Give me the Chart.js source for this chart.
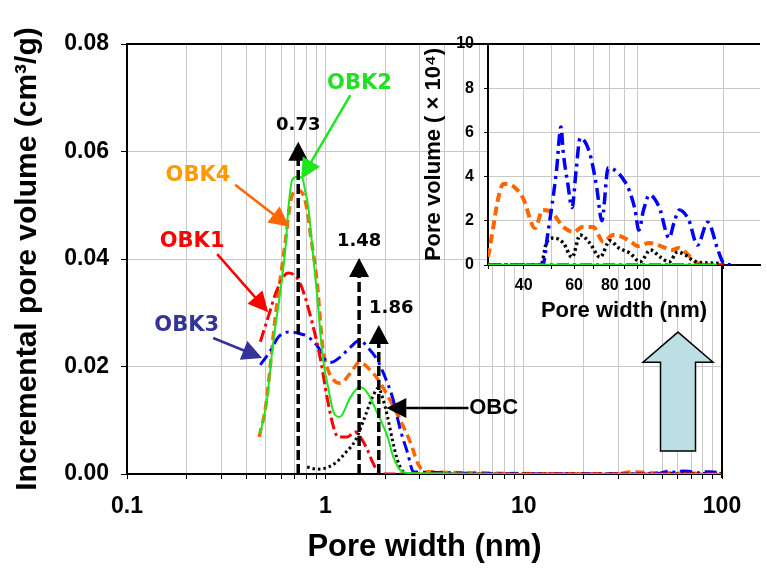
<!DOCTYPE html>
<html>
<head>
<meta charset="utf-8">
<script src="https://cdn.jsdelivr.net/npm/chart.js@4.4.0/dist/chart.umd.min.js"></script>
<style>
  html, body { margin: 0; padding: 0; background: #fff; }
  #wrap { position: relative; width: 767px; height: 568px; }
  #main { position: absolute; left: 0; top: 0; }
  #inset { position: absolute; left: 420px; top: 20px; }
</style>
</head>
<body>
<div id="wrap">
  <canvas id="main" width="767" height="568"></canvas>
  <canvas id="inset" width="347" height="320"></canvas>
</div>
<script>
// ---- tick labels ----
const xTickLabels = [0.1, 1, 10, 100];
const yTicks = [0, 0.02, 0.04, 0.06, 0.08];
const insetXTickLabels = [40, 60, 80, 100];
const insetYTicks = [0, 2, 4, 6, 8, 10];

// ---- micropore part (nm, cm3/g) ----
const obk1X = [0.47, 0.515, 0.57, 0.65, 0.72, 0.77, 0.86, 0.94, 1.02, 1.1, 1.16, 1.29, 1.42, 1.5, 1.63, 1.73, 1.85, 1.96];
const obk1Y = [0.0246, 0.0292, 0.0342, 0.0374, 0.0365, 0.0342, 0.028, 0.0218, 0.0143, 0.0087, 0.0069, 0.0069, 0.0078, 0.0069, 0.0045, 0.0022, 0.0004, 0];

const obk2X = [0.47, 0.51, 0.54, 0.63, 0.65, 0.68, 0.72, 0.765, 0.79, 0.82, 0.86, 0.91, 0.97, 1.04, 1.1, 1.18, 1.34, 1.49, 1.63, 1.83, 2.06, 2.2, 2.39, 2.6];
const obk2Y = [0.0075, 0.0143, 0.023, 0.0422, 0.0491, 0.0547, 0.0553, 0.0551, 0.0528, 0.0497, 0.0422, 0.033, 0.0218, 0.0156, 0.0115, 0.0106, 0.0143, 0.0162, 0.0151, 0.0113, 0.0069, 0.0032, 0.0007, 0.0002];

const obk3X = [0.47, 0.53, 0.58, 0.65, 0.73, 0.82, 0.92, 1.0, 1.08, 1.19, 1.34, 1.49, 1.65, 1.83, 1.96, 2.18, 2.39, 2.6, 2.78];
const obk3Y = [0.0203, 0.023, 0.0255, 0.0264, 0.0262, 0.0255, 0.0236, 0.0212, 0.0208, 0.0218, 0.0236, 0.0249, 0.0234, 0.0212, 0.0188, 0.0143, 0.0082, 0.0039, 0.0004];

const obk4X = [0.464, 0.5, 0.53, 0.55, 0.63, 0.67, 0.72, 0.765, 0.81, 0.84, 0.91, 0.97, 1.02, 1.1, 1.19, 1.34, 1.49, 1.69, 1.85, 2.08, 2.39, 2.69, 2.95, 3.27];
const obk4Y = [0.0069, 0.0125, 0.0207, 0.0268, 0.0435, 0.051, 0.0528, 0.0523, 0.0491, 0.0448, 0.0355, 0.0236, 0.0199, 0.0175, 0.0169, 0.0188, 0.0208, 0.0193, 0.0175, 0.0143, 0.01, 0.0058, 0.0017, 0.0004];

const obcX = [0.81, 0.91, 1.0, 1.12, 1.26, 1.42, 1.56, 1.73, 1.85, 1.94, 2.06, 2.18, 2.31, 2.48, 2.7];
const obcY = [0.0013, 0.0009, 0.0011, 0.002, 0.0039, 0.0063, 0.01, 0.0143, 0.016, 0.0143, 0.0106, 0.0063, 0.0026, 0.0004, 0];

// ---- mesopore part, inset (nm, x10^-4 cm3/g) ----
const mesoObk1X = [30, 200];
const mesoObk1Y = [0, 0];
const mesoObk2X = [30, 190];
const mesoObk2Y = [0, 0];
const mesoObk3X = [30, 46.6, 48.6, 52, 54, 55, 57, 59, 61, 63, 68, 72, 75, 79, 85, 91, 94, 98, 101, 105, 110, 119, 129, 134, 140, 151, 162, 176, 191, 200, 215];
const mesoObk3Y = [0, 0, 1.45, 4.2, 6.24, 5.07, 3.7, 2.6, 4.3, 5.75, 5.07, 3.5, 2.0, 4.4, 4.2, 3.7, 3.3, 2.5, 1.58, 2.5, 3.17, 2.62, 1.22, 1.9, 2.49, 2.04, 0.9, 1.94, 0.68, 0.09, 0];
const mesoObk4X = [30, 34, 35, 39.6, 43.8, 46.6, 50, 55, 60, 64, 70, 76, 82, 87, 96, 100, 110, 123, 132, 139, 153, 162, 180];
const mesoObk4Y = [0.36, 3.66, 3.66, 3.08, 1.67, 2.49, 2.4, 1.72, 1.49, 1.72, 1.72, 1.04, 1.36, 1.31, 1.0, 0.86, 1.0, 0.81, 0.68, 0.77, 0.36, 0.09, 0];
const mesoObcX = [30, 46, 48, 51, 55, 59, 63, 68, 74, 80, 86, 89, 94, 102, 111, 120, 129, 138, 147, 160, 180, 196, 205];
const mesoObcY = [0, 0, 1.0, 1.22, 1.0, 0.35, 1.36, 1.0, 0.35, 1.1, 0.77, 0.68, 0.54, 0.14, 0.68, 0.36, 0.14, 0.59, 0.45, 0.14, 0.09, 0.05, 0];

Chart.defaults.font.family = '"Liberation Sans", Arial, sans-serif';
Chart.defaults.font.weight = 'bold';
Chart.defaults.color = '#000';

const gridColor = '#c8c8c8';

// log grid positions 1..9 x 10^n between min and max
function logGrid(min, max) {
  const out = [];
  for (let e = Math.floor(Math.log10(min)); e <= Math.ceil(Math.log10(max)); e++) {
    for (let k = 1; k < 10; k++) {
      const v = Number((k * Math.pow(10, e)).toPrecision(3));
      if (v >= min - 1e-9 && v <= max + 1e-9) out.push(v);
    }
  }
  return out;
}

function pts(xs, ys, f) {
  return xs.map((x, i) => ({ x: x, y: ys[i] * (f || 1) }));
}

const styles = [
  { label: 'OBK1', color: '#ff0000', dash: [12, 4, 3, 4], width: 3, order: 1 },
  { label: 'OBK2', color: '#1ee61e', dash: [], width: 2, order: 0 },
  { label: 'OBK3', color: '#0000ff', dash: [12, 5, 3, 5], width: 3, order: 2 },
  { label: 'OBK4', color: '#ff6600', dash: [9, 5], width: 3.5, order: 4 },
  { label: 'OBC', color: '#000000', dash: [2.5, 3], width: 3, order: 3 }
];
const micro = [[obk1X, obk1Y], [obk2X, obk2Y], [obk3X, obk3Y], [obk4X, obk4Y], [obcX, obcY]];
const meso = [[mesoObk1X, mesoObk1Y], [mesoObk2X, mesoObk2Y], [mesoObk3X, mesoObk3Y], [mesoObk4X, mesoObk4Y], [mesoObcX, mesoObcY]];

const mainSets = styles.map((s, i) => ({
  label: s.label,
  data: pts(micro[i][0], micro[i][1]).concat(pts(meso[i][0], meso[i][1], 1e-4)),
  borderColor: s.color,
  borderDash: s.dash,
  borderWidth: s.width,
  order: s.order,
  showLine: true,
  pointRadius: 0,
  cubicInterpolationMode: 'monotone',
  tension: 0.3
}));

const insetSets = styles.map((s, i) => ({
  label: s.label,
  data: pts(meso[i][0], meso[i][1]),
  borderColor: s.color,
  borderDash: s.dash,
  borderWidth: s.width + 0.5,
  order: s.order,
  showLine: true,
  pointRadius: 0,
  cubicInterpolationMode: 'monotone',
  tension: 0.3
}));

// ---- annotations (data coordinates) ----
const refMarks = [
  { x: 0.73, tip: 0.0618, text: '0.73', tx: 0.73, ty: 0.0649 },
  { x: 1.48, tip: 0.0402, text: '1.48', tx: 1.48, ty: 0.0432 },
  { x: 1.86, tip: 0.0277, text: '1.86', tx: 2.15, ty: 0.0309 }
];
const callouts = [
  { text: 'OBK2', textColor: '#22e022', color: '#1ee61e', tx: 1.486, ty: 0.0727, sx: 1.338, sy: 0.0705, ex: 0.756, ey: 0.0549 },
  { text: 'OBK4', textColor: '#ff9900', color: '#ff6600', tx: 0.228, ty: 0.0556, sx: 0.351, sy: 0.0538, ex: 0.658, ey: 0.046 },
  { text: 'OBK1', textColor: '#ff0000', color: '#ff0000', tx: 0.213, ty: 0.0432, sx: 0.285, sy: 0.0409, ex: 0.515, ey: 0.0301 },
  { text: 'OBK3', textColor: '#333399', color: '#333399', tx: 0.2, ty: 0.0277, sx: 0.272, sy: 0.0253, ex: 0.48, ey: 0.0216 },
  { text: 'OBC', textColor: '#000000', color: '#000000', tx: 7.06, ty: 0.0123, sx: 5.27, sy: 0.0123, ex: 2.03, ey: 0.0123, arial: true }
];
const bigArrow = { x: 60, tip: 0.0264, shoulder: 0.0208, bottom: 0.0043 };

function head(ctx, fx, fy, tx, ty, len, half, color) {
  const a = Math.atan2(ty - fy, tx - fx);
  ctx.save();
  ctx.translate(tx, ty);
  ctx.rotate(a);
  ctx.beginPath();
  ctx.moveTo(0, 0);
  ctx.lineTo(-len, -half);
  ctx.lineTo(-len, half);
  ctx.closePath();
  ctx.fillStyle = color;
  ctx.fill();
  ctx.restore();
}

const mainDeco = {
  id: 'mainDeco',
  afterDatasetsDraw(chart) {
    const { ctx, chartArea: ca } = chart;
    const X = v => chart.scales.x.getPixelForValue(v);
    const Y = v => chart.scales.y.getPixelForValue(v);
    ctx.save();
    // frame top and right
    ctx.strokeStyle = '#000';
    ctx.lineWidth = 2;
    ctx.beginPath();
    ctx.moveTo(ca.left, ca.top);
    ctx.lineTo(ca.right, ca.top);
    ctx.lineTo(ca.right, ca.bottom + 4);
    ctx.stroke();

    // big light blue arrow
    const bx = X(bigArrow.x), bt = Y(bigArrow.tip), bs = Y(bigArrow.shoulder), bb = Y(bigArrow.bottom);
    ctx.beginPath();
    ctx.moveTo(bx, bt);
    ctx.lineTo(bx + 35, bs);
    ctx.lineTo(bx + 17.5, bs);
    ctx.lineTo(bx + 17.5, bb);
    ctx.lineTo(bx - 17.5, bb);
    ctx.lineTo(bx - 17.5, bs);
    ctx.lineTo(bx - 35, bs);
    ctx.closePath();
    ctx.fillStyle = '#bcdfe3';
    ctx.fill();
    ctx.lineWidth = 1.5;
    ctx.strokeStyle = '#000';
    ctx.stroke();

    // dashed reference arrows
    refMarks.forEach(m => {
      const x = X(m.x), t = Y(m.tip);
      ctx.beginPath();
      ctx.setLineDash([10, 4]);
      ctx.lineWidth = 3.5;
      ctx.strokeStyle = '#000';
      ctx.moveTo(x, ca.bottom);
      ctx.lineTo(x, t + 14);
      ctx.stroke();
      ctx.setLineDash([]);
      head(ctx, x, ca.bottom, x, t, 19, 10, '#000');
      ctx.font = 'bold 18px "DejaVu Sans", sans-serif';
      ctx.fillStyle = '#000';
      ctx.textAlign = 'center';
      ctx.textBaseline = 'middle';
      ctx.fillText(m.text, X(m.tx), Y(m.ty));
    });

    // callout arrows
    callouts.forEach(c => {
      const sx = X(c.sx), sy = Y(c.sy), ex = X(c.ex), ey = Y(c.ey);
      const a = Math.atan2(ey - sy, ex - sx);
      ctx.beginPath();
      ctx.lineWidth = 2.5;
      ctx.strokeStyle = c.color;
      ctx.moveTo(sx, sy);
      ctx.lineTo(ex - 15 * Math.cos(a), ey - 15 * Math.sin(a));
      ctx.stroke();
      head(ctx, sx, sy, ex, ey, 20, 10, c.color);
      ctx.font = c.arial ? 'bold 22px "Liberation Sans", Arial, sans-serif' : 'bold 21px "DejaVu Sans", sans-serif';
      ctx.fillStyle = c.textColor;
      ctx.textAlign = 'center';
      ctx.textBaseline = 'middle';
      ctx.fillText(c.text, X(c.tx), Y(c.ty));
    });
    ctx.restore();
  }
};

function fixBox(w, h) {
  return function (s) {
    if (w !== null) s.width = w;
    if (h !== null) s.height = h;
    s.paddingLeft = 0; s.paddingRight = 0; s.paddingTop = 0; s.paddingBottom = 0;
  };
}

new Chart(document.getElementById('main').getContext('2d'), {
  type: 'scatter',
  data: { datasets: mainSets },
  plugins: [mainDeco],
  options: {
    responsive: false,
    animation: false,
    layout: { padding: { left: 0, top: 44, right: 45, bottom: 0 } },
    plugins: { legend: { display: false }, tooltip: { enabled: false } },
    scales: {
      x: {
        type: 'logarithmic',
        min: 0.1,
        max: 100,
        afterBuildTicks: s => { s.ticks = logGrid(0.1, 100).map(v => ({ value: v })); },
        afterFit: fixBox(null, 94),
        ticks: {
          autoSkip: false,
          maxRotation: 0,
          padding: 14,
          font: { size: 23, weight: 'bold' },
          callback: v => (xTickLabels.includes(v) ? String(v) : '')
        },
        grid: { color: gridColor, tickColor: '#000', tickLength: 5 },
        border: { color: '#000', width: 2 },
        title: {
          display: true,
          text: 'Pore width (nm)',
          font: { size: 31, weight: 'bold', lineHeight: 1 },
          padding: { top: 0, bottom: 5 }
        }
      },
      y: {
        min: 0,
        max: 0.08,
        afterBuildTicks: s => { s.ticks = yTicks.map(v => ({ value: v })); },
        afterFit: fixBox(127, null),
        ticks: {
          padding: 12,
          font: { size: 23, weight: 'bold' },
          callback: v => v.toFixed(2)
        },
        grid: { color: gridColor, tickColor: '#000', tickLength: 6 },
        border: { color: '#000', width: 2 },
        title: {
          display: true,
          text: 'Incremental pore volume (cm³/g)',
          font: { size: 30, weight: 'bold', lineHeight: 1 },
          padding: { top: 13, bottom: 0 }
        }
      }
    }
  }
});

const insetDeco = {
  id: 'insetDeco',
  beforeDraw(chart) {
    const { ctx, chartArea: ca } = chart;
    ctx.save();
    ctx.fillStyle = '#fff';
    ctx.fillRect(ca.left, ca.top, ca.right - ca.left, ca.bottom - ca.top);
    ctx.restore();
  },
  afterDraw(chart) {
    const { ctx, chartArea: ca } = chart;
    ctx.save();
    ctx.strokeStyle = '#000';
    ctx.lineWidth = 2;
    ctx.beginPath();
    ctx.moveTo(ca.left, ca.top);
    ctx.lineTo(ca.right, ca.top);
    ctx.stroke();
    ctx.restore();
  }
};

new Chart(document.getElementById('inset').getContext('2d'), {
  type: 'scatter',
  data: { datasets: insetSets },
  plugins: [insetDeco],
  options: {
    responsive: false,
    animation: false,
    layout: { padding: { left: 0, top: 24, right: 7, bottom: 0 } },
    plugins: { legend: { display: false }, tooltip: { enabled: false } },
    scales: {
      x: {
        type: 'logarithmic',
        min: 30,
        max: 268,
        afterBuildTicks: s => { s.ticks = logGrid(30, 268).map(v => ({ value: v })); },
        afterFit: fixBox(null, 75),
        ticks: {
          autoSkip: false,
          maxRotation: 0,
          padding: 7,
          font: { size: 16, weight: 'bold' },
          callback: v => (insetXTickLabels.includes(v) ? String(v) : '')
        },
        grid: { color: gridColor, tickColor: '#000', tickLength: 4 },
        border: { color: '#000', width: 2 },
        title: {
          display: true,
          text: 'Pore width (nm)',
          font: { size: 22, weight: 'bold', lineHeight: 1 },
          padding: { top: 0, bottom: 18 }
        }
      },
      y: {
        min: 0,
        max: 10,
        afterBuildTicks: s => { s.ticks = insetYTicks.map(v => ({ value: v })); },
        afterFit: fixBox(68, null),
        ticks: {
          padding: 10,
          font: { size: 16, weight: 'bold' }
        },
        grid: { color: gridColor, tickColor: '#000', tickLength: 4 },
        border: { color: '#000', width: 2 },
        title: {
          display: true,
          text: 'Pore volume ( × 10⁴)',
          font: { size: 22, weight: 'bold', lineHeight: 1 },
          padding: { top: 3, bottom: 0 }
        }
      }
    }
  }
});
</script>
</body>
</html>
